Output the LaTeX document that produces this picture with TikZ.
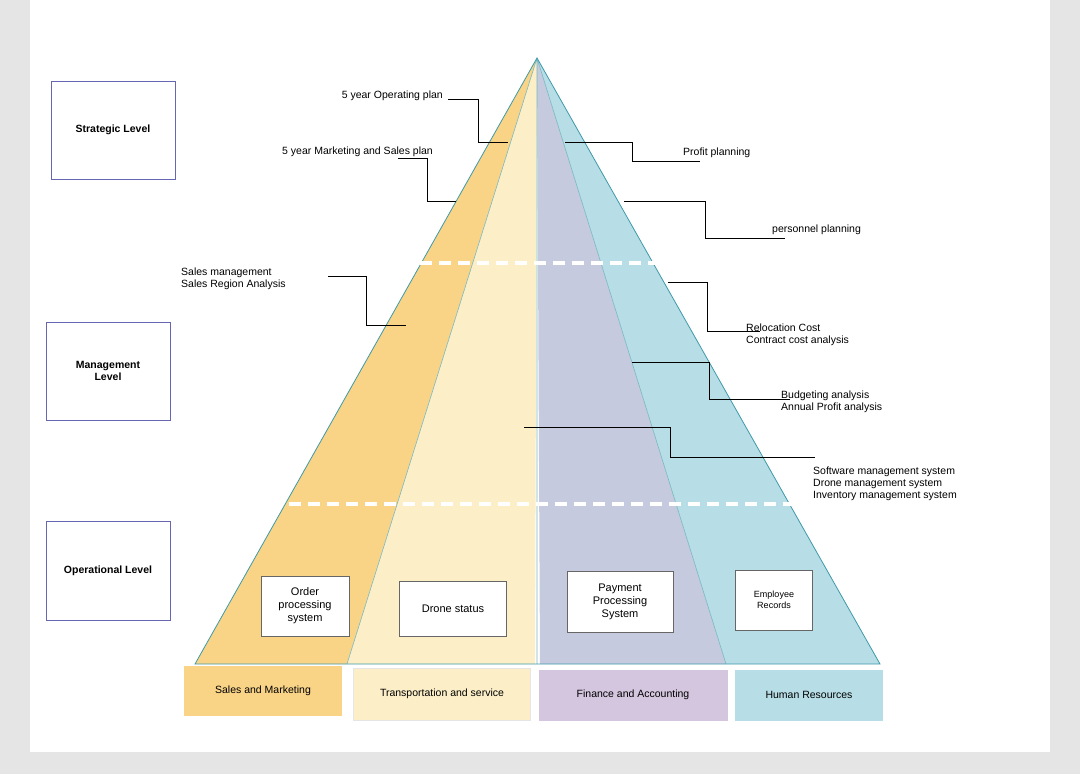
\documentclass[tikz,border=0pt]{standalone}
\usepackage{fontspec}
\setmainfont{Liberation Sans}
\begin{document}
\begin{tikzpicture}[x=1pt,y=-1pt,
 lbl/.style={font=\fontsize{10.5}{12}\selectfont,align=left,inner sep=0pt,anchor=south west},
 lead/.style={black,line width=0.7pt},
 lvl/.style={draw=black!50!blue!60,fill=white,line width=0.7pt,font=\bfseries\fontsize{10.5}{12}\selectfont,align=center,inner sep=0pt},
 sys/.style={draw=black!60,fill=white,line width=0.7pt,font=\fontsize{11}{13}\selectfont,align=center,inner sep=0pt},
 dept/.style={font=\fontsize{10.5}{12}\selectfont,inner sep=0pt},
 wdash/.style={white,line width=3.5pt,dash pattern=on 12pt off 7pt}]
\useasboundingbox (0,0) rectangle (1080,774);
\fill[gray!20] (0,0) rectangle (1080,774);
\fill[white] (30,0) rectangle (1050,752);
\definecolor{cor}{HTML}{F9D386}\definecolor{ccr}{HTML}{FCEFC7}
\definecolor{cpu}{HTML}{C5CADE}\definecolor{cbl}{HTML}{B7DDE7}
\definecolor{cfa}{HTML}{D5C6DF}
\definecolor{edge}{HTML}{3E9AA8}
\coordinate (apex) at (537,58);
\fill[cor] (apex) -- (195,664) -- (347,664) -- cycle;
\fill[ccr] (apex) -- (347,664) -- (535,664) -- cycle;
\fill[cpu] (apex) -- (540,664) -- (726,664) -- cycle;
\fill[cbl] (apex) -- (726,664) -- (880,664) -- cycle;
\draw[edge!70,line width=0.6pt] (apex)--(347,664) (apex)--(726,664) (apex)--(537,664);
\draw[edge,line width=0.8pt] (195,664) -- (apex) -- (880,664) -- cycle;
\draw[wdash] (420,263) -- (660,263);
\draw[wdash] (270,504) -- (795,504);
% levels
\node[lvl,minimum width=124,minimum height=98] (s) at (113,130) {Strategic Level};
\node[lvl,minimum width=124,minimum height=98] (m) at (108,371) {Management\\Level};
\node[lvl,minimum width=124,minimum height=99] (o) at (108,571) {Operational Level};
% systems
\node[sys,minimum width=88,minimum height=60] (op) at (305,606) {Order\\processing\\system};
\node[sys,minimum width=107,minimum height=55] (ds) at (453,609) {Drone status};
\node[sys,minimum width=106,minimum height=61] (pp) at (620,602) {Payment\\Processing\\System};
\node[sys,minimum width=77,minimum height=60,font=\fontsize{9}{11}\selectfont] (er) at (774,600) {Employee\\Records};
% departments
\node[dept,fill=cor,minimum width=158,minimum height=50] (d1) at (263,691) {Sales and Marketing};
\node[dept,fill=ccr,draw=gray!20,minimum width=177,minimum height=52] (d2) at (442,694) {Transportation and service};
\node[dept,fill=cfa,minimum width=189,minimum height=51] (d3) at (633,695) {Finance and Accounting};
\node[dept,fill=cbl,minimum width=148,minimum height=51] (d4) at (809,695) {Human Resources};
% labels and leaders
\node[lbl,anchor=south east] (t1) at (443,101) {5 year Operating plan};
\draw[lead] (448,99) -- (478,99) -- (478,142) -- (508,142);
\node[lbl,anchor=south east] (t2) at (433,157) {5 year Marketing and Sales plan};
\draw[lead] (398,158) -- (427,158) -- (427,201) -- (456,201);
\node[lbl,anchor=south west] (t3) at (181,290) {Sales management\\Sales Region Analysis};
\draw[lead] (328,276) -- (366,276) -- (366,325) -- (406,325);
\node[lbl] (t4) at (683,158) {Profit planning};
\draw[lead] (565,142) -- (632,142) -- (632,161) -- (700,161);
\node[lbl] (t5) at (772,235) {personnel planning};
\draw[lead] (624,201) -- (705,201) -- (705,238) -- (785,238);
\node[lbl] (t6) at (746,346) {Relocation Cost\\Contract cost analysis};
\draw[lead] (668,282) -- (707,282) -- (707,331) -- (760,331);
\node[lbl] (t7) at (781,413) {Budgeting analysis\\Annual Profit analysis};
\draw[lead] (632,362) -- (709,362) -- (709,399) -- (790,399);
\node[lbl] (t8) at (813,501) {Software management system\\Drone management system\\Inventory management system};
\draw[lead] (524,427) -- (670,427) -- (670,457) -- (815,457);
\end{tikzpicture}
\end{document}
